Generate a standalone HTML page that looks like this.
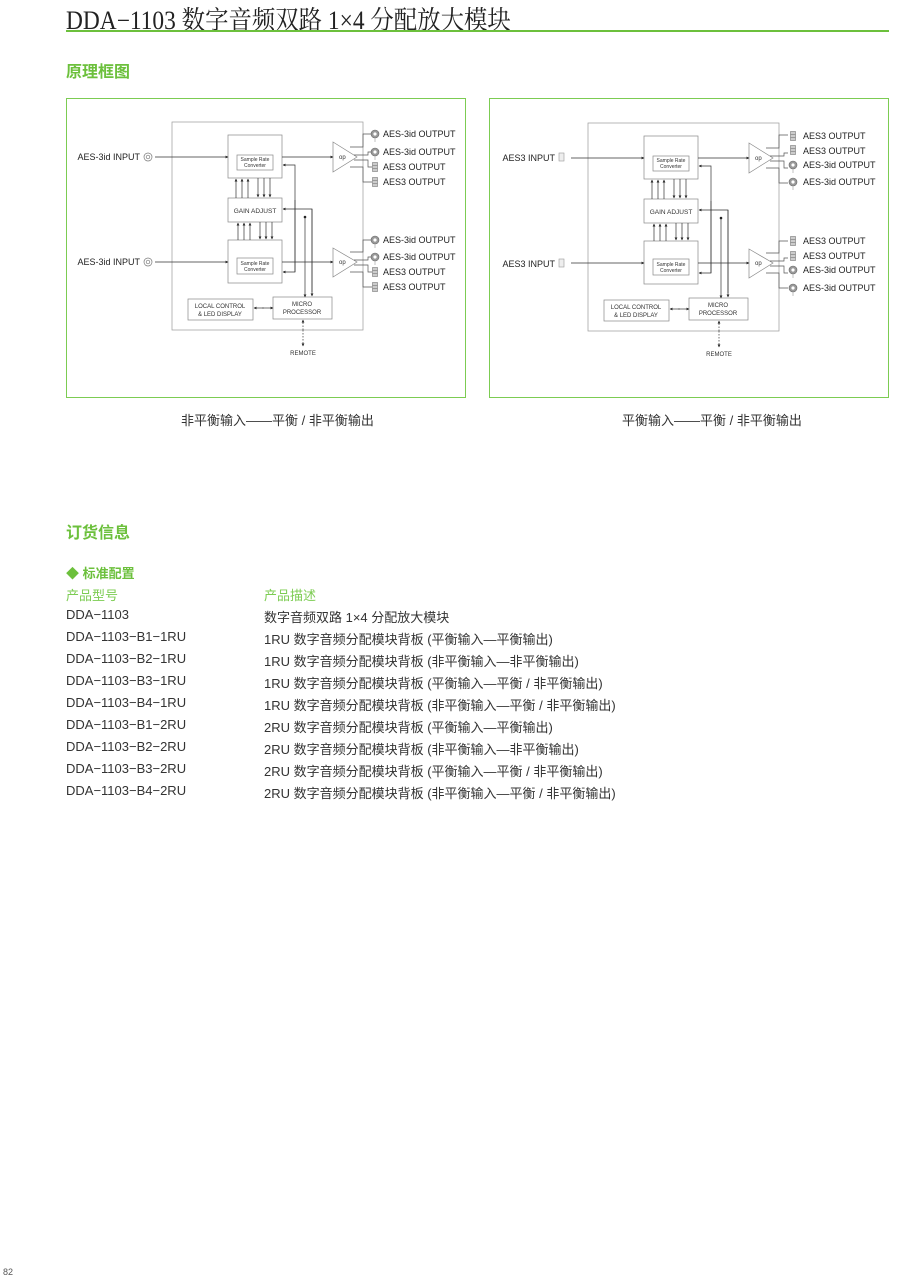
<!DOCTYPE html>
<html><head><meta charset="utf-8">
<style>
html,body{margin:0;padding:0;background:#fff;}
body{width:900px;height:1282px;position:relative;overflow:hidden;font-family:"Liberation Sans","Noto Sans CJK SC",sans-serif;}
.t{position:absolute;white-space:nowrap;}
.title{left:66px;top:0px;font-family:"Liberation Serif","Noto Serif CJK SC",serif;font-size:26px;color:#222;transform:scaleX(0.9);transform-origin:0 0;}
.line{position:absolute;left:66px;top:30px;width:823px;height:2px;background:#6cc03c;}
.h{color:#6cc03c;font-weight:bold;font-size:16px;}
.row{font-size:13px;color:#333;}
.cap{font-size:13px;color:#333;}
</style></head><body>
<div class="t title">DDA−1103 数字音频双路 1×4 分配放大模块</div>
<div class="line"></div>
<div class="t h" style="left:66px;top:58px;">原理框图</div>

<svg style="position:absolute;left:0;top:0" width="900" height="420" font-family="Liberation Sans, Arial, sans-serif">
<defs>
<marker id="a" markerWidth="4" markerHeight="4" refX="3.5" refY="2" orient="auto"><path d="M0,0 L4,2 L0,4z" fill="#222"/></marker>
<g id="core" stroke="#555" stroke-width="0.7" fill="none">
  <rect x="172" y="122" width="191" height="208" stroke="#999"/>
  <rect x="228" y="135" width="54" height="43" stroke="#888"/>
  <rect x="237" y="155" width="36" height="15" stroke="#888"/>
  <rect x="228" y="198" width="54" height="24" stroke="#888"/>
  <rect x="228" y="240" width="54" height="43" stroke="#888"/>
  <rect x="237" y="258" width="36" height="16" stroke="#888"/>
  <rect x="188" y="299" width="65" height="21" stroke="#888"/>
  <rect x="273" y="297" width="59" height="22" stroke="#888"/>
  <path d="M333,142 L357,157 L333,172z" stroke="#888"/>
  <path d="M333,248 L357,262 L333,277z" stroke="#888"/>
  <g stroke="#333" marker-end="url(#a)">
   <line x1="155" y1="157" x2="228" y2="157"/>
   <line x1="282" y1="157" x2="333" y2="157"/>
   <line x1="155" y1="262" x2="228" y2="262"/>
   <line x1="282" y1="262" x2="333" y2="262"/>
   <line x1="236" y1="198" x2="236" y2="179"/><line x1="242" y1="198" x2="242" y2="179"/><line x1="248" y1="198" x2="248" y2="179"/>
   <line x1="258" y1="178" x2="258" y2="197"/><line x1="264" y1="178" x2="264" y2="197"/><line x1="270" y1="178" x2="270" y2="197"/>
   <line x1="238" y1="240" x2="238" y2="223"/><line x1="244" y1="240" x2="244" y2="223"/><line x1="250" y1="240" x2="250" y2="223"/>
   <line x1="260" y1="222" x2="260" y2="239"/><line x1="266" y1="222" x2="266" y2="239"/><line x1="272" y1="222" x2="272" y2="239"/>
   <polyline points="295,272 295,165 283,165"/>
   <polyline points="295,200 295,272 283,272"/>
   <polyline points="312,292 312,209 283,209"/>
   <polyline points="312,209 312,296"/>
   <line x1="305" y1="217" x2="305" y2="297"/>
   <line x1="262" y1="308" x2="273" y2="308"/>
   <line x1="264" y1="308" x2="254" y2="308"/>
  </g>
  <circle cx="305" cy="217" r="1.3" fill="#222" stroke="none"/>
  <g stroke="#333" stroke-dasharray="1.5,1.5" marker-end="url(#a)">
   <line x1="303" y1="330" x2="303" y2="346"/><line x1="303" y1="330" x2="303" y2="320"/>
  </g>
  <g stroke="#555">
   <polyline points="350,147 363,147 363,134 372,134"/>
   <polyline points="354,155 368,155 368,152 372,152"/>
   <polyline points="354,160 368,160 368,167 372,167"/>
   <polyline points="350,167 363,167 363,182 372,182"/>
   <polyline points="350,252 363,252 363,240 372,240"/>
   <polyline points="354,260 368,260 368,257 372,257"/>
   <polyline points="354,265 368,265 368,272 372,272"/>
   <polyline points="350,272 363,272 363,287 372,287"/>
  </g>
</g>
<g id="bnc"><circle r="4" fill="#999" stroke="#666" stroke-width="0.6"/><circle r="1.6" fill="#fff"/><line x1="0" y1="4" x2="0" y2="8" stroke="#999" stroke-width="0.6"/></g>
<g id="xlr"><rect x="-2.5" y="-4.5" width="5" height="9" fill="#ccc" stroke="#777" stroke-width="0.6"/><line x1="-2.5" y1="-1.5" x2="2.5" y2="-1.5" stroke="#777" stroke-width="0.6"/><line x1="-2.5" y1="1.5" x2="2.5" y2="1.5" stroke="#777" stroke-width="0.6"/></g>
<g id="labels" font-size="6.5" fill="#333" text-anchor="middle">
  <text x="255" y="161" font-size="5">Sample Rate</text><text x="255" y="167" font-size="5">Converter</text>
  <text x="255" y="265" font-size="5">Sample Rate</text><text x="255" y="271" font-size="5">Converter</text>
  <text x="255" y="213">GAIN ADJUST</text>
  <text x="220" y="308" font-size="6">LOCAL  CONTROL</text><text x="220" y="316" font-size="6">&amp; LED  DISPLAY</text>
  <text x="302" y="306" font-size="6">MICRO</text><text x="302" y="314" font-size="6">PROCESSOR</text>
  <text x="303" y="355" font-size="6">REMOTE</text>
  <text x="339" y="159" text-anchor="start" font-size="6">op</text>
  <text x="339" y="264" text-anchor="start" font-size="6">op</text>
</g>
</defs>

<rect x="66.5" y="98.5" width="399" height="299" fill="none" stroke="#7ccc52" stroke-width="1"/>
<rect x="489.5" y="98.5" width="399" height="299" fill="none" stroke="#7ccc52" stroke-width="1"/>

<use href="#core"/><use href="#labels"/>
<g fill="none" stroke="#777" stroke-width="0.7"><circle cx="148" cy="157" r="4"/><circle cx="148" cy="157" r="1.8"/><circle cx="148" cy="262" r="4"/><circle cx="148" cy="262" r="1.8"/></g>
<g font-size="9" fill="#222">
<text x="140" y="160" text-anchor="end">AES-3id INPUT</text>
<text x="140" y="265" text-anchor="end">AES-3id INPUT</text>
<text x="383" y="137">AES-3id OUTPUT</text><text x="383" y="155">AES-3id OUTPUT</text>
<text x="383" y="170">AES3 OUTPUT</text><text x="383" y="185">AES3 OUTPUT</text>
<text x="383" y="243">AES-3id OUTPUT</text><text x="383" y="260">AES-3id OUTPUT</text>
<text x="383" y="275">AES3 OUTPUT</text><text x="383" y="290">AES3 OUTPUT</text>
</g>
<use href="#bnc" x="375" y="134"/><use href="#bnc" x="375" y="152"/><use href="#xlr" x="375" y="167"/><use href="#xlr" x="375" y="182"/>
<use href="#bnc" x="375" y="240"/><use href="#bnc" x="375" y="257"/><use href="#xlr" x="375" y="272"/><use href="#xlr" x="375" y="287"/>

<g transform="translate(416,1)"><use href="#core"/><use href="#labels"/></g>
<g fill="#eee" stroke="#999" stroke-width="0.6"><rect x="559" y="153" width="5" height="8"/><rect x="559" y="259" width="5" height="8"/></g>
<g font-size="9" fill="#222">
<text x="555" y="161" text-anchor="end">AES3 INPUT</text>
<text x="555" y="267" text-anchor="end">AES3 INPUT</text>
<text x="803" y="139">AES3 OUTPUT</text><text x="803" y="154">AES3 OUTPUT</text>
<text x="803" y="168">AES-3id OUTPUT</text><text x="803" y="185">AES-3id OUTPUT</text>
<text x="803" y="244">AES3 OUTPUT</text><text x="803" y="259">AES3 OUTPUT</text>
<text x="803" y="273">AES-3id OUTPUT</text><text x="803" y="291">AES-3id OUTPUT</text>
</g>
<use href="#xlr" x="793" y="136"/><use href="#xlr" x="793" y="150"/><use href="#bnc" x="793" y="165"/><use href="#bnc" x="793" y="182"/>
<use href="#xlr" x="793" y="241"/><use href="#xlr" x="793" y="256"/><use href="#bnc" x="793" y="270"/><use href="#bnc" x="793" y="288"/>
</svg>

<div class="t cap" style="left:181px;top:410px;">非平衡输入——平衡 / 非平衡输出</div>
<div class="t cap" style="left:622px;top:410px;">平衡输入——平衡 / 非平衡输出</div>

<div class="t h" style="left:66px;top:519px;">订货信息</div>
<div class="t h" style="left:66px;top:563px;font-size:13px;">◆ 标准配置</div>
<div class="t row" style="left:66px;top:585px;color:#7ccc52;">产品型号</div>
<div class="t row" style="left:264px;top:585px;color:#7ccc52;">产品描述</div>

<div class="t row" style="left:66px;top:607px;">DDA−1103</div>
<div class="t row" style="left:264px;top:607px;">数字音频双路 1×4 分配放大模块</div>
<div class="t row" style="left:66px;top:629px;">DDA−1103−B1−1RU</div>
<div class="t row" style="left:264px;top:629px;">1RU 数字音频分配模块背板 (平衡输入—平衡输出)</div>
<div class="t row" style="left:66px;top:651px;">DDA−1103−B2−1RU</div>
<div class="t row" style="left:264px;top:651px;">1RU 数字音频分配模块背板 (非平衡输入—非平衡输出)</div>
<div class="t row" style="left:66px;top:673px;">DDA−1103−B3−1RU</div>
<div class="t row" style="left:264px;top:673px;">1RU 数字音频分配模块背板 (平衡输入—平衡 / 非平衡输出)</div>
<div class="t row" style="left:66px;top:695px;">DDA−1103−B4−1RU</div>
<div class="t row" style="left:264px;top:695px;">1RU 数字音频分配模块背板 (非平衡输入—平衡 / 非平衡输出)</div>
<div class="t row" style="left:66px;top:717px;">DDA−1103−B1−2RU</div>
<div class="t row" style="left:264px;top:717px;">2RU 数字音频分配模块背板 (平衡输入—平衡输出)</div>
<div class="t row" style="left:66px;top:739px;">DDA−1103−B2−2RU</div>
<div class="t row" style="left:264px;top:739px;">2RU 数字音频分配模块背板 (非平衡输入—非平衡输出)</div>
<div class="t row" style="left:66px;top:761px;">DDA−1103−B3−2RU</div>
<div class="t row" style="left:264px;top:761px;">2RU 数字音频分配模块背板 (平衡输入—平衡 / 非平衡输出)</div>
<div class="t row" style="left:66px;top:783px;">DDA−1103−B4−2RU</div>
<div class="t row" style="left:264px;top:783px;">2RU 数字音频分配模块背板 (非平衡输入—平衡 / 非平衡输出)</div>

<div class="t" style="left:3px;top:1267px;font-size:9px;color:#555;">82</div>
</body></html>
